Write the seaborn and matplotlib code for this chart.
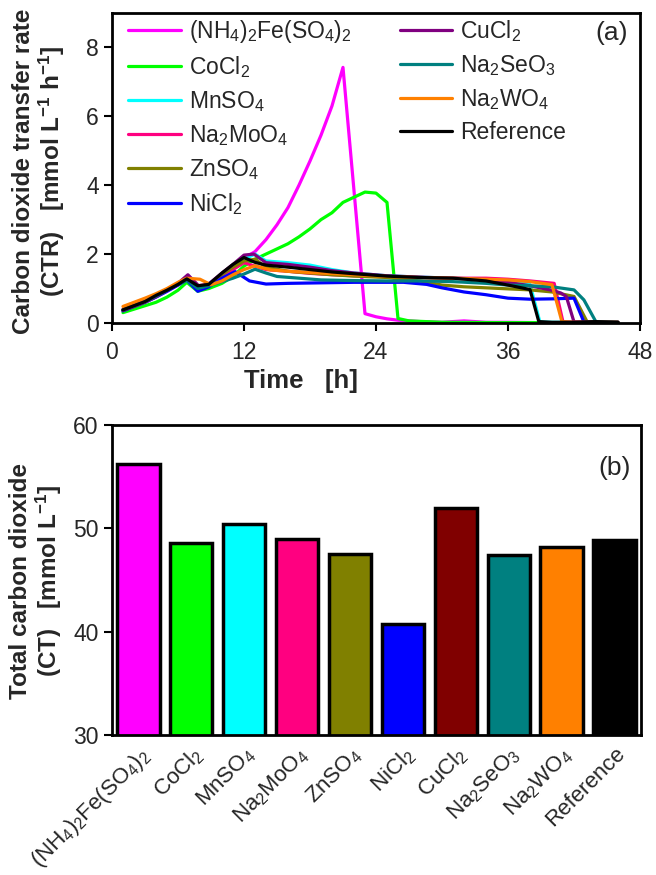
import numpy as np
import pandas as pd
import matplotlib
matplotlib.use("Agg")
import matplotlib.pyplot as plt
import seaborn as sns

# ---- panel (a): carbon dioxide transfer rate [mmol/L/h] over time [h]
t_fe = [1, 2, 3, 4, 5, 6, 6.8, 7.8, 8.8, 10, 11, 12, 13, 14, 15, 16, 17, 18, 19, 20, 21,
        23, 24, 25, 26, 28, 30, 32, 34, 36, 38.8]
ctr_fe = [0.35, 0.48, 0.6, 0.76, 0.92, 1.1, 1.25, 1.05, 1.1, 1.35, 1.6, 1.88, 2.07, 2.42, 2.85,
          3.35, 4.0, 4.7, 5.45, 6.3, 7.42, 0.27, 0.18, 0.12, 0.08, 0.04, 0.02, 0.06, 0.02, 0.02, 0.01]

t_co = [1, 2, 3, 4, 5, 6, 6.8, 7.8, 8.8, 10, 11, 12, 13, 14, 15, 16, 17, 18, 19, 20, 21, 22,
        23, 24, 25, 26, 27, 30, 35, 40]
ctr_co = [0.3, 0.4, 0.5, 0.6, 0.75, 0.95, 1.18, 0.92, 1.0, 1.15, 1.35, 1.65, 1.85, 2.0, 2.15,
          2.3, 2.5, 2.73, 3.0, 3.2, 3.5, 3.65, 3.8, 3.77, 3.5, 0.13, 0.06, 0.02, 0.01, 0.01]

t_mn = [1, 2, 3, 4, 5, 6, 6.8, 7.8, 8.8, 10, 11, 12, 13, 14, 16, 18, 20, 22, 25, 28, 31, 34,
        36, 38, 38.9, 40, 42]
ctr_mn = [0.38, 0.5, 0.62, 0.78, 0.95, 1.12, 1.28, 1.05, 1.1, 1.4, 1.65, 1.85, 2.0, 1.8, 1.75,
          1.68, 1.55, 1.45, 1.37, 1.33, 1.3, 1.27, 1.22, 1.12, 0.03, 0.02, 0.02]

t_mo = [1, 2, 3, 4, 5, 6, 6.8, 7.8, 8.8, 10, 11, 12, 13, 14, 16, 18, 20, 22, 25, 28, 31, 34,
        36, 38, 40.2, 41, 43, 45]
ctr_mo = [0.4, 0.52, 0.65, 0.8, 0.97, 1.15, 1.3, 1.08, 1.12, 1.35, 1.55, 1.75, 1.65, 1.55, 1.5,
          1.44, 1.4, 1.37, 1.34, 1.32, 1.3, 1.3, 1.27, 1.22, 1.15, 0.03, 0.02, 0.02]

t_zn = [1, 2, 3, 4, 5, 6, 6.8, 7.8, 8.8, 10, 11, 12, 13, 14, 16, 18, 20, 22, 25, 28, 30, 32,
        34, 36, 38, 40, 42, 43.2, 44, 46]
ctr_zn = [0.38, 0.5, 0.62, 0.78, 0.95, 1.12, 1.28, 1.05, 1.1, 1.4, 1.62, 1.8, 1.85, 1.62, 1.5,
          1.45, 1.4, 1.36, 1.32, 1.22, 1.1, 1.05, 1.02, 0.99, 0.96, 0.9, 0.77, 0.03, 0.02, 0.02]

t_ni = [1, 2, 3, 4, 5, 6, 6.8, 7.8, 8.8, 10, 11.2, 12.5, 14, 16, 18, 20, 22, 24, 26.5, 28.6,
        30, 32, 34, 36, 38, 40, 42, 42.9, 44, 46]
ctr_ni = [0.35, 0.48, 0.6, 0.75, 0.92, 1.1, 1.25, 0.92, 1.05, 1.3, 1.49, 1.22, 1.13, 1.15, 1.16,
          1.17, 1.18, 1.18, 1.18, 1.12, 1.02, 0.9, 0.82, 0.72, 0.69, 0.7, 0.72, 0.03, 0.02, 0.02]

t_cu = [1, 2, 3, 4, 5, 6, 6.9, 8, 8.9, 10, 11, 12, 12.9, 14, 16, 18, 20, 22, 25, 28, 31, 34,
        36, 38, 40, 40.8, 41.3, 42, 44, 46]
ctr_cu = [0.36, 0.48, 0.6, 0.76, 0.95, 1.15, 1.4, 1.04, 1.16, 1.45, 1.7, 1.97, 2.0, 1.75, 1.7,
          1.62, 1.52, 1.45, 1.37, 1.33, 1.3, 1.26, 1.18, 1.08, 0.95, 0.87, 0.77, 0.03, 0.02, 0.02]

t_se = [1, 2, 3, 4, 5, 6, 6.8, 7.8, 8.8, 10, 11, 12, 13, 14, 15, 17, 19, 22, 25, 28, 31, 34,
        36, 38, 40, 42, 42.9, 44, 46]
ctr_se = [0.38, 0.5, 0.62, 0.78, 0.95, 1.12, 1.25, 1.0, 1.08, 1.2, 1.3, 1.42, 1.56, 1.45, 1.35,
          1.3, 1.25, 1.23, 1.22, 1.22, 1.2, 1.15, 1.1, 1.08, 1.05, 0.96, 0.67, 0.03, 0.02]

t_w = [1, 2, 3, 4, 5, 6, 6.8, 8, 9, 10, 11, 12, 13, 14.4, 16, 19, 22, 25, 28, 31, 34, 36, 38,
       40, 40.9, 42, 44, 46]
ctr_w = [0.48, 0.6, 0.72, 0.85, 1.0, 1.18, 1.3, 1.27, 1.11, 1.22, 1.4, 1.55, 1.66, 1.54, 1.5,
         1.45, 1.4, 1.35, 1.32, 1.3, 1.27, 1.25, 1.2, 1.11, 0.04, 0.02, 0.02, 0.02]

t_ref = [1, 2, 3, 4, 5, 6, 6.8, 7.8, 8.8, 10, 11, 12, 13, 14, 16, 18, 20, 22, 25, 28, 31, 34,
         36, 38, 38.8, 40, 42, 44, 46]
ctr_ref = [0.38, 0.5, 0.62, 0.8, 0.95, 1.12, 1.28, 1.08, 1.12, 1.45, 1.7, 1.9, 1.76, 1.68, 1.62,
           1.55, 1.48, 1.43, 1.36, 1.32, 1.3, 1.22, 1.1, 0.97, 0.04, 0.02, 0.02, 0.04, 0.02]

# ---- panel (b): total carbon dioxide [mmol/L]
salts = ["(NH$_4$)$_2$Fe(SO$_4$)$_2$", "CoCl$_2$", "MnSO$_4$", "Na$_2$MoO$_4$", "ZnSO$_4$",
         "NiCl$_2$", "CuCl$_2$", "Na$_2$SeO$_3$", "Na$_2$WO$_4$", "Reference"]
total_ct = [56.2, 48.6, 50.4, 49.0, 47.5, 40.7, 52.0, 47.4, 48.2, 48.9]

line_colors = ["#FF00FF", "#00FF00", "#00FFFF", "#FF0080", "#808000",
               "#0000FF", "#800080", "#008080", "#FF8000", "#000000"]
bar_colors = ["#FF00FF", "#00FF00", "#00FFFF", "#FF0080", "#808000",
              "#0000FF", "#800000", "#008080", "#FF8000", "#000000"]

series = [(t_fe, ctr_fe), (t_co, ctr_co), (t_mn, ctr_mn), (t_mo, ctr_mo), (t_zn, ctr_zn),
          (t_ni, ctr_ni), (t_cu, ctr_cu), (t_se, ctr_se), (t_w, ctr_w), (t_ref, ctr_ref)]

sns.set_theme(style="ticks")
plt.rcParams["font.family"] = ["Liberation Sans", "DejaVu Sans"]
plt.rcParams["mathtext.fontset"] = "custom"
plt.rcParams["mathtext.rm"] = "Liberation Sans"
plt.rcParams["mathtext.it"] = "Liberation Sans:italic"
plt.rcParams["mathtext.bf"] = "Liberation Sans:bold"
plt.rcParams["mathtext.default"] = "regular"

FS = 16.5

fig = plt.figure(figsize=(6.56, 8.75), dpi=100)
ax1 = fig.add_axes([0.1707, 0.6309, 0.8049, 0.3543])
ax2 = fig.add_axes([0.1707, 0.16, 0.8064, 0.3543])

# panel (a)
for (t, v), name, col in zip(series, salts, line_colors):
    sns.lineplot(x=t, y=v, color=col, lw=2.3, label=name, ax=ax1, legend=False,
                 sort=False, estimator=None)

ax1.set_xlim(0, 48)
ax1.set_ylim(0, 9)
ax1.set_xticks([0, 12, 24, 36, 48])
ax1.set_yticks([0, 2, 4, 6, 8])
ax1.set_xlabel("Time   [h]", fontsize=18.5, fontweight="bold")
ax1.xaxis.set_label_coords(0.358, -0.15)
ax1.set_ylabel("Carbon dioxide transfer rate\n(CTR)   [mmol L$^{-1}$ h$^{-1}$]",
               fontsize=17.5, fontweight="bold", linespacing=1.1)
ax1.yaxis.set_label_coords(-0.085, 0.49)
ax1.text(0.977, 0.975, "(a)", transform=ax1.transAxes, ha="right", va="top", fontsize=19)

handles, labels = ax1.get_legend_handles_labels()
leg1 = ax1.legend(handles[:6], labels[:6], loc="upper left", bbox_to_anchor=(0.03, 0.985),
                  frameon=False, fontsize=FS, handlelength=2.3, handletextpad=0.35,
                  labelspacing=0.4, borderpad=0, borderaxespad=0)
ax1.add_artist(leg1)
ax1.legend(handles[6:], labels[6:], loc="upper left", bbox_to_anchor=(0.545, 0.985),
           frameon=False, fontsize=FS, handlelength=2.3, handletextpad=0.35,
           labelspacing=0.4, borderpad=0, borderaxespad=0)

# panel (b)
sns.barplot(x=salts, y=total_ct, hue=salts, palette=bar_colors, order=salts, saturation=1,
            edgecolor="black", linewidth=2.5, width=0.8, legend=False, ax=ax2)
ax2.set_xlim(-0.5, 9.5)
ax2.set_ylim(30, 60)
ax2.set_yticks([30, 40, 50, 60])
ax2.set_xticks(range(len(salts)))
ax2.set_xticklabels(salts, rotation=45, ha="right", rotation_mode="anchor")
ax2.tick_params(axis="x", length=0, pad=6)
ax2.set_ylabel("Total carbon dioxide\n(CT)   [mmol L$^{-1}$]",
               fontsize=17.5, fontweight="bold", linespacing=1.1)
ax2.yaxis.set_label_coords(-0.09, 0.497)
ax2.text(0.98, 0.9, "(b)", transform=ax2.transAxes, ha="right", va="top", fontsize=19)

for ax in (ax1, ax2):
    for sp in ax.spines.values():
        sp.set_visible(True)
        sp.set_linewidth(2)
        sp.set_color("black")
    ax.tick_params(axis="both", labelsize=FS, width=1.5, color="black", direction="out")
    ax.tick_params(axis="y", length=6)
ax1.tick_params(axis="x", length=6, pad=7)
ax2.tick_params(axis="x", labelsize=16)

fig.savefig("out.png", dpi=100)
